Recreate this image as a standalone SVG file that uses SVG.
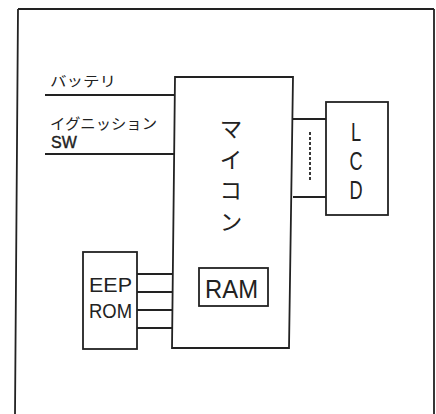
<svg xmlns="http://www.w3.org/2000/svg" width="436" height="414" viewBox="0 0 436 414">
<style>
.ln{fill:none;stroke:#222;stroke-width:1.8}
.bx{fill:#fff;stroke:#222;stroke-width:1.8}
.jp{font-family:"Noto Sans CJK JP","Noto Sans",sans-serif;fill:#222}
.lt{font-family:"Liberation Sans",Arial,sans-serif;fill:#222}
.vt{writing-mode:vertical-rl}
</style>
<rect x="0" y="0" width="436" height="414" fill="#fff"/>
<g id="frame">
<path class="ln" d="M18,9 L434,9 M18,9 L15,414 M434,9 L434,414" stroke-width="2"/>
</g>
<g id="connectors">
<line class="ln" x1="45" y1="95" x2="175" y2="95"/>
<line class="ln" x1="45" y1="154" x2="174" y2="154"/>
<line class="ln" x1="293" y1="119" x2="326" y2="119"/>
<line class="ln" x1="293" y1="197" x2="326" y2="197"/>
<line class="ln" x1="310" y1="132" x2="310" y2="182" stroke-dasharray="3,2" stroke-width="1.2"/>
<line class="ln" x1="137" y1="274" x2="173" y2="274"/>
<line class="ln" x1="137" y1="292" x2="173" y2="292"/>
<line class="ln" x1="137" y1="310" x2="173" y2="310"/>
<line class="ln" x1="137" y1="328" x2="173" y2="328"/>
</g>
<g id="battery">
<text class="jp" x="50" y="86" font-size="14" textLength="66" lengthAdjust="spacingAndGlyphs">バッテリ</text>
</g>
<g id="ignition">
<text class="jp" x="50" y="129" font-size="15" textLength="107" lengthAdjust="spacingAndGlyphs">イグニッション</text>
<text class="lt" x="51" y="148" font-size="16" stroke="#222" stroke-width="0.4">SW</text>
</g>
<g id="micon">
<path class="bx" d="M175,77 L293,77 L289,348 L172,348 Z"/>
<text class="jp vt" x="231" y="117" font-size="23" letter-spacing="8">マイコン</text>
</g>
<g id="ram">
<rect class="bx" x="199" y="268" width="69" height="38"/>
<text class="lt" x="205" y="298" font-size="26" textLength="53" lengthAdjust="spacingAndGlyphs">RAM</text>
</g>
<g id="lcd">
<rect class="bx" x="326" y="102" width="62" height="113"/>
<text class="lt vt" x="0" y="118" font-size="26" style="text-orientation:upright" transform="translate(356,0) scale(0.7,1)">LCD</text>
</g>
<g id="eeprom">
<rect class="bx" x="83" y="252" width="54" height="97"/>
<text class="lt" x="89" y="292" font-size="21" textLength="43" lengthAdjust="spacingAndGlyphs">EEP</text>
<text class="lt" x="89" y="318" font-size="21" textLength="43" lengthAdjust="spacingAndGlyphs">ROM</text>
</g>
</svg>
